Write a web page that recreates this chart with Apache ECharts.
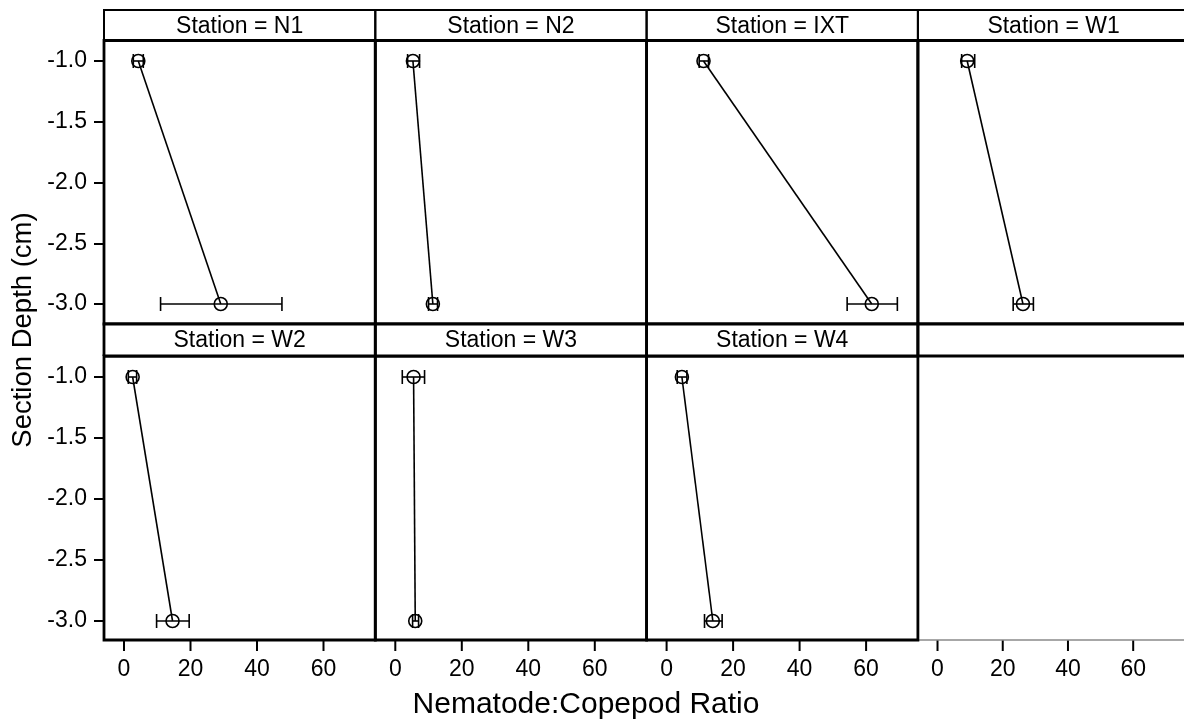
<!DOCTYPE html>
<html>
<head>
<meta charset="utf-8">
<script src="https://cdn.jsdelivr.net/npm/echarts@6/dist/echarts.min.js"></script>
<style>html,body{margin:0;padding:0;background:#fff;}#c{width:1184px;height:727px;}#err{position:absolute;left:940px;top:420px;width:230px;font:11px sans-serif;color:red;white-space:pre-wrap;}</style>
</head>
<body>
<div id="c"></div>
<div id="err"></div>
<script>
// ---- data ----
var stations = ['N1', 'N2', 'IXT', 'W1', 'W2', 'W3', 'W4'];
var depths = [-1, -3];
var meanTop = [4.3, 5.3, 11.1, 9.1, 2.6, 5.5, 4.6];
var lowTop  = [2.8, 3.7, 9.8, 7.4, 1.3, 2.1, 3.2];
var highTop = [5.8, 7.3, 12.6, 11.4, 3.8, 8.8, 6.1];
var meanBot = [29.1, 11.3, 61.7, 26.2, 14.6, 6.0, 13.9];
var lowBot  = [11.0, 10.0, 54.3, 23.2, 9.8, 5.2, 11.4];
var highBot = [47.5, 12.7, 69.4, 29.4, 19.6, 7.0, 16.7];
var xTicks = [0, 20, 40, 60];
var yTicks = [-1.0, -1.5, -2.0, -2.5, -3.0];
var xTitle = 'Nematode:Copepod Ratio';
var yTitle = 'Section Depth (cm)';

// ---- layout ----
var FONT = 'Liberation Sans, Arial, sans-serif';
var L = 104, colW = 271.3;
var panelTop = [40.5, 356], panelBot = [324, 640];
var stripTop = [10, 324];
var padTop = [20.5, 21], padBot = [20, 19]; // pixel space between data range and panel edge
var padX = 20, gridW = 199.5;                 // x: 0 sits 20px inside panel, 0..60 spans 199.5px
var BW = 2.8;                                 // panel border width

function build(mode) {
  var grids = [], xAxes = [], yAxes = [], series = [], graphics = [];
  for (var p = 0; p < 8; p++) {
    var col = p % 4, row = Math.floor(p / 4);
    var pLeft = L + col * colW, pTop = panelTop[row], pH = panelBot[row] - panelTop[row];
    var isEmpty = p >= stations.length;
    var bottomRow = row === 1;
    var xAx = {
      type: 'value', gridIndex: p, position: 'bottom',
      splitLine: { show: false },
      axisLine: { show: false, onZero: false },
      axisTick: { show: false },
      axisLabel: { show: bottomRow, margin: 18, color: '#000', fontFamily: FONT, fontSize: 23 }
    };
    var yAx = {
      type: 'value', gridIndex: p, position: 'left',
      splitLine: { show: false },
      axisLine: { show: false, onZero: false },
      axisTick: { show: col === 0, inside: false, length: 10, lineStyle: { color: '#000', width: 2 } },
      axisLabel: { show: col === 0, margin: 17, color: '#000', fontFamily: FONT, fontSize: 23,
        formatter: function (v) { return Number(v).toFixed(1); } }
    };
    if (mode === 'custom') {
      grids.push({ left: pLeft, top: pTop, width: colW, height: pH, show: false });
      var upx = (xTicks[xTicks.length - 1] - xTicks[0]) / gridW;
      xAx.min = xTicks[0] - padX * upx;
      xAx.max = xAx.min + colW * upx;
      xAx.axisLabel.customValues = xTicks;
      var ySpanPx = pH - padTop[row] - padBot[row];
      var upy = (yTicks[0] - yTicks[yTicks.length - 1]) / ySpanPx;
      yAx.max = yTicks[0] + padTop[row] * upy;
      yAx.min = yTicks[yTicks.length - 1] - padBot[row] * upy;
      yAx.axisTick.customValues = yTicks;
      yAx.axisLabel.customValues = yTicks;
    } else {
      grids.push({ left: pLeft + padX, top: pTop + padTop[row], width: gridW, height: pH - padTop[row] - padBot[row], show: false });
      xAx.min = xTicks[0]; xAx.max = xTicks[xTicks.length - 1]; xAx.interval = xTicks[1] - xTicks[0];
      xAx.offset = padBot[row];
      yAx.min = yTicks[yTicks.length - 1]; yAx.max = yTicks[0]; yAx.interval = yTicks[0] - yTicks[1];
      yAx.offset = padX;
    }
    xAxes.push(xAx); yAxes.push(yAx);

    if (!isEmpty) {
      graphics.push({ type: 'rect', z: 5,
        shape: { x: pLeft, y: pTop, width: colW, height: pH },
        style: { fill: 'none', stroke: '#000', lineWidth: BW } });
    } else {
      graphics.push({ type: 'line', z: 4,
        shape: { x1: pLeft, y1: panelBot[row], x2: pLeft + colW, y2: panelBot[row] },
        style: { stroke: '#8a8a8a', lineWidth: 1.5 } });
    }
    // strip: white box, side and top lines
    graphics.push({ type: 'rect', z: 9,
      shape: { x: pLeft, y: stripTop[row], width: colW, height: pTop - stripTop[row] },
      style: { fill: '#fff', stroke: null } });
    graphics.push({ type: 'polyline', z: 10,
      shape: { points: [[pLeft, pTop], [pLeft, stripTop[row]], [pLeft + colW, stripTop[row]], [pLeft + colW, pTop]] },
      style: { fill: null, stroke: '#000', lineWidth: row === 0 ? 2 : BW } });
    graphics.push({ type: 'line', z: 10,
      shape: { x1: pLeft, y1: pTop, x2: pLeft + colW, y2: pTop },
      style: { stroke: '#000', lineWidth: BW } });
    if (!isEmpty) {
      graphics.push({ type: 'text', z: 11,
        x: pLeft + colW / 2, y: (stripTop[row] + pTop) / 2 + 1,
        style: { text: 'Station = ' + stations[p], fill: '#000', font: '23px ' + FONT, textAlign: 'center', textVerticalAlign: 'middle' } });
    }

    // x-axis tick marks along the bottom edge of bottom-row panels, placed by the x scale
    if (bottomRow) {
      series.push({
        type: 'custom', xAxisIndex: p, yAxisIndex: p, clip: false, silent: true,
        data: xTicks.map(function (v) { return [v, yTicks[yTicks.length - 1]]; }),
        renderItem: function (params, api) {
          var cs = params.coordSys;
          var x = api.coord([api.value(0), api.value(1)])[0];
          var yb = cs.y + cs.height;
          return { type: 'line', shape: { x1: x, y1: yb, x2: x, y2: yb + 11 },
            style: { stroke: '#000', lineWidth: 2 } };
        },
        animation: false, z: 1
      });
    }
    if (isEmpty) continue;

    series.push({
      type: 'line', xAxisIndex: p, yAxisIndex: p, clip: false,
      data: [[meanTop[p], depths[0]], [meanBot[p], depths[1]]],
      symbol: 'circle', symbolSize: 13,
      itemStyle: { color: 'rgba(0,0,0,0)', borderColor: '#000', borderWidth: 1.6 },
      lineStyle: { color: '#000', width: 1.6 },
      animation: false, z: 3
    });
    series.push({
      type: 'custom', xAxisIndex: p, yAxisIndex: p, clip: false,
      data: [[lowTop[p], highTop[p], depths[0]], [lowBot[p], highBot[p], depths[1]]],
      renderItem: function (params, api) {
        var a = api.coord([api.value(0), api.value(2)]);
        var b = api.coord([api.value(1), api.value(2)]);
        var h = 7;
        var st = { stroke: '#000', lineWidth: 1.6 };
        return { type: 'group', children: [
          { type: 'line', shape: { x1: a[0], y1: a[1], x2: b[0], y2: b[1] }, style: st },
          { type: 'line', shape: { x1: a[0], y1: a[1] - h, x2: a[0], y2: a[1] + h }, style: st },
          { type: 'line', shape: { x1: b[0], y1: b[1] - h, x2: b[0], y2: b[1] + h }, style: st }
        ] };
      },
      animation: false, z: 2
    });
  }
  graphics.push({ type: 'text', x: 586, y: 705,
    style: { text: xTitle, fill: '#000', font: '30px ' + FONT, textAlign: 'center', textVerticalAlign: 'middle' } });
  graphics.push({ type: 'text', x: 23, y: 330, rotation: Math.PI / 2,
    style: { text: yTitle, fill: '#000', font: '27.5px ' + FONT, textAlign: 'center', textVerticalAlign: 'middle' } });
  return { backgroundColor: '#fff', animation: false,
    grid: grids, xAxis: xAxes, yAxis: yAxes, series: series, graphic: graphics };
}

var el = document.getElementById('c');
var chart;
try {
  chart = echarts.init(el, null, { renderer: 'canvas' });
  chart.setOption(build('custom'));
} catch (e) {
  document.getElementById('err').textContent = 'fallback: ' + String(e).slice(0, 120);
  try { chart.dispose(); } catch (e2) {}
  chart = echarts.init(el, null, { renderer: 'canvas' });
  chart.setOption(build('offset'));
}
</script>
</body>
</html>
